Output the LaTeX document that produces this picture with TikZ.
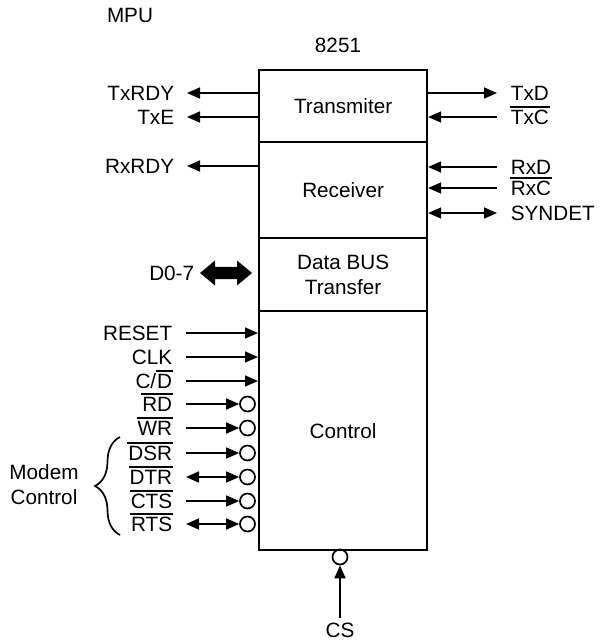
\documentclass[tikz,border=0pt]{standalone}
\usepackage{fontspec}
\setmainfont{Liberation Sans}
\usetikzlibrary{arrows.meta,decorations.pathreplacing}
\newcommand\ovl[1]{\leavevmode\vbox{\hrule height 1.6pt\kern 2.2pt\hbox{\kern1pt#1\kern1pt}}}
\begin{document}
\begin{tikzpicture}[x=1pt,y=-1pt,
  font=\fontsize{20.7}{25}\selectfont,
  line width=1.7pt,
  sect/.style={draw, line width=2.2pt, minimum width=168pt, inner sep=0pt, anchor=north west, align=center},
  lblL/.style={anchor=base east, yshift=-7.4pt, inner sep=0pt},
  lblR/.style={anchor=base west, yshift=-7.4pt, inner sep=0pt},
  arr/.style={-{Triangle[length=13pt,width=11pt]}},
  darr/.style={{Triangle[length=13pt,width=11pt]}-{Triangle[length=13pt,width=11pt]}},
  bub/.style={circle, draw, minimum size=15pt, inner sep=0pt}]
\useasboundingbox (0,0) rectangle (600,644);

% titles
\node (mpu) at (130,15) {MPU};
\node (chip) at (338,45) {8251};

% main block sections
\node[sect, minimum height=72pt] (trans) at (258,69) {Transmiter};
\node[sect, minimum height=96pt] (recv) at (258,141) {Receiver};
\node[sect, minimum height=73pt] (dbus) at (258,237) {Data BUS\\Transfer};
\node[sect, minimum height=239pt] (ctrl) at (258,310) {Control};

% left outputs
\coordinate (t1) at (187,93);  \node[lblL] (l1) at (175,93) {TxRDY};
\coordinate (t2) at (187,117); \node[lblL] (l2) at (175,117) {TxE};
\coordinate (t3) at (187,166); \node[lblL] (l3) at (175,166) {RxRDY};
\draw[arr] (trans.west |- t1) -- (t1);
\draw[arr] (trans.west |- t2) -- (t2);
\draw[arr] (recv.west |- t3) -- (t3);

% right side
\coordinate (r1) at (497,93);  \node[lblR] (m1) at (510,93) {TxD};
\coordinate (r2) at (497,117); \node[lblR] (m2) at (509,117) {\ovl{TxC}};
\coordinate (r3) at (497,167); \node[lblR] (m3) at (510,167) {RxD};
\coordinate (r4) at (497,188); \node[lblR] (m4) at (509,188) {\ovl{RxC}};
\coordinate (r5) at (497,213); \node[lblR] (m5) at (510,213) {SYNDET};
\draw[arr] (trans.east |- r1) -- (r1);
\draw[arr] (r2) -- (trans.east |- r2);
\draw[arr] (r3) -- (recv.east |- r3);
\draw[arr] (r4) -- (recv.east |- r4);
\draw[darr] (r5) -- (recv.east |- r5);

% data bus
\node[lblL] (ld) at (195,273) {D0-7};
\coordinate (d0) at (200,273);
\fill (d0) -- ++(15,-12.5) -- ++(0,6.3) -- ++(22,0) -- ++(0,-6.3) -- ++(15,12.5)
  -- ++(-15,12.5) -- ++(0,-6.3) -- ++(-22,0) -- ++(0,6.3) -- cycle;

% control inputs without bubble
\coordinate (c1) at (186,333); \node[lblL] (k1) at (173,333) {RESET};
\coordinate (c2) at (186,357); \node[lblL] (k2) at (173,357) {CLK};
\coordinate (c3) at (186,381); \node[lblL] (k3) at (174,381) {C/\ovl{D}};
\draw[arr] (c1) -- (ctrl.west |- c1);
\draw[arr] (c2) -- (ctrl.west |- c2);
\draw[arr] (c3) -- (ctrl.west |- c3);

% control inputs with bubbles
\coordinate (c4) at (186,404); \node[lblL] (k4) at (174,404) {\ovl{RD}};  \node[bub] (b4) at (247.5,404) {};
\coordinate (c5) at (186,428); \node[lblL] (k5) at (174,428) {\ovl{WR}};  \node[bub] (b5) at (247.5,428) {};
\coordinate (c6) at (186,453); \node[lblL] (k6) at (174,453) {\ovl{DSR}}; \node[bub] (b6) at (247.5,453) {};
\coordinate (c7) at (186,477); \node[lblL] (k7) at (174,477) {\ovl{DTR}}; \node[bub] (b7) at (247.5,477) {};
\coordinate (c8) at (186,501); \node[lblL] (k8) at (174,501) {\ovl{CTS}}; \node[bub] (b8) at (247.5,501) {};
\coordinate (c9) at (186,524); \node[lblL] (k9) at (174,524) {\ovl{RTS}}; \node[bub] (b9) at (247.5,524) {};
\draw[arr] (c4) -- (b4.west);
\draw[arr] (c5) -- (b5.west);
\draw[arr] (c6) -- (b6.west);
\draw[darr] (c7) -- (b7.west);
\draw[arr] (c8) -- (b8.west);
\draw[darr] (c9) -- (b9.west);

% modem control brace
\draw[decorate, decoration={brace, amplitude=25pt}] (120,535) -- (120,437);
\node[align=center] (modem) at (44,485) {Modem\\Control};

% chip select
\node[bub] (bcs) at (340,557) {};
\coordinate (cs0) at (340,618);
\draw[arr] (cs0) -- (bcs.south);
\node[anchor=base, yshift=-7.4pt, inner sep=0pt] (lcs) at (340,630) {CS};
\end{tikzpicture}
\end{document}
